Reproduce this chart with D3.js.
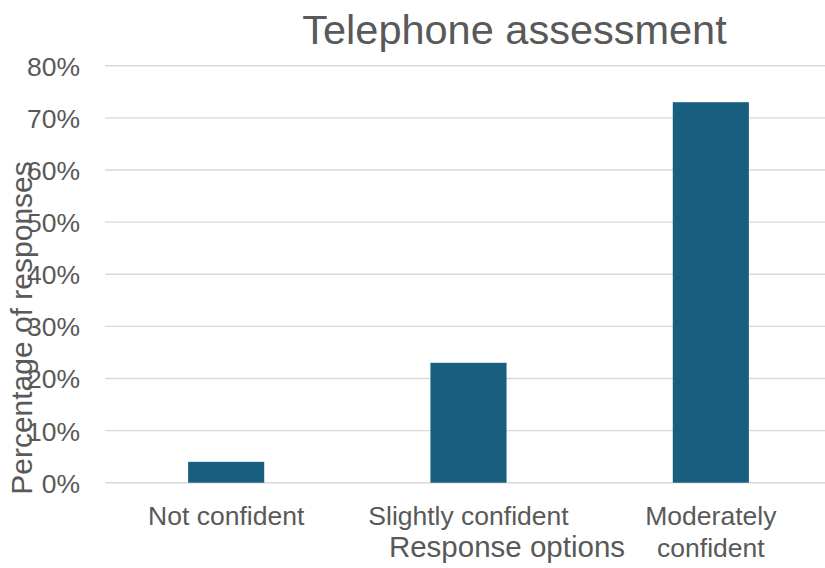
<!DOCTYPE html>
<html>
<head>
<meta charset="utf-8">
<script src="https://cdn.jsdelivr.net/npm/d3@7"></script>
<style>
  html, body { margin: 0; padding: 0; background: #fff; }
  svg { display: block; font-family: "Liberation Sans", Arial, sans-serif; }
</style>
</head>
<body>
<svg id="chart" width="825" height="568"></svg>
<script>
// Confidence in telephone assessment, share of responses per option
const categories = ["Not confident", "Slightly confident", "Moderately confident"];
const shares = [0.04, 0.23, 0.73];
const yTicks = [0, 0.1, 0.2, 0.3, 0.4, 0.5, 0.6, 0.7, 0.8];
const chartTitle = "Telephone assessment";
const xTitle = "Response options";
const yTitle = "Percentage of responses";

const svg = d3.select("#chart");
const textColor = "#595959";
const barColor = "#175e7f";
const gridColor = "#d9d9d9";

const x = d3.scaleBand()
  .domain(categories)
  .range([105, 832])
  .paddingInner(0.686)
  .paddingOuter(0.343);

const y = d3.scaleLinear()
  .domain([0, 0.8])
  .range([482.7, 65.7]);

// horizontal gridlines
svg.append("g")
  .selectAll("line")
  .data(yTicks)
  .join("line")
  .attr("x1", 105)
  .attr("x2", 825)
  .attr("y1", d => y(d))
  .attr("y2", d => y(d))
  .attr("stroke", gridColor)
  .attr("stroke-width", 1.4);

// y tick labels
const yAxis = d3.axisLeft(y)
  .tickValues(yTicks)
  .tickFormat(d3.format(".0%"))
  .tickSize(0)
  .tickPadding(0);

const gy = svg.append("g")
  .attr("transform", "translate(80,0)")
  .call(yAxis);
gy.select(".domain").remove();
gy.selectAll("text")
  .attr("font-size", 26.5)
  .attr("font-family", "Liberation Sans, Arial, sans-serif")
  .attr("fill", textColor)
  .attr("dy", "0.36em");

// bars
svg.append("g")
  .selectAll("rect")
  .data(categories)
  .join("rect")
  .attr("x", d => x(d))
  .attr("width", x.bandwidth())
  .attr("y", (d, i) => y(shares[i]))
  .attr("height", (d, i) => y(0) - y(shares[i]))
  .attr("fill", barColor);

// category labels, wrapped to the band step
const xAxis = d3.axisBottom(x).tickSize(0).tickPadding(0);
const gx = svg.append("g")
  .attr("transform", `translate(0,${y(0)})`)
  .call(xAxis);
gx.select(".domain").remove();
gx.selectAll("text")
  .attr("font-size", 26.5)
  .attr("font-family", "Liberation Sans, Arial, sans-serif")
  .attr("fill", textColor)
  .attr("y", 0)
  .attr("dy", 0)
  .each(function(d) {
    const t = d3.select(this);
    const words = d.split(" ");
    const maxW = x.step() - 6;
    const lines = [];
    let cur = [];
    t.text(null);
    const probe = t.append("tspan");
    words.forEach(w => {
      const test = cur.concat(w).join(" ");
      probe.text(test);
      if (probe.node().getComputedTextLength() > maxW && cur.length) {
        lines.push(cur.join(" "));
        cur = [w];
      } else {
        cur.push(w);
      }
    });
    lines.push(cur.join(" "));
    probe.remove();
    lines.forEach((ln, i) => {
      t.append("tspan")
        .attr("x", 0)
        .attr("y", 42.5 + i * 32)
        .text(ln);
    });
  });

// chart title
svg.append("text")
  .attr("x", 514.5)
  .attr("y", 44)
  .attr("text-anchor", "middle")
  .attr("font-size", 41.5)
  .attr("fill", textColor)
  .text(chartTitle);

// x axis title
svg.append("text")
  .attr("x", 507)
  .attr("y", 557)
  .attr("text-anchor", "middle")
  .attr("font-size", 29.5)
  .attr("fill", textColor)
  .text(xTitle);

// y axis title
svg.append("text")
  .attr("transform", "translate(32,328) rotate(-90)")
  .attr("text-anchor", "middle")
  .attr("font-size", 30)
  .attr("fill", textColor)
  .text(yTitle);
</script>
</body>
</html>
